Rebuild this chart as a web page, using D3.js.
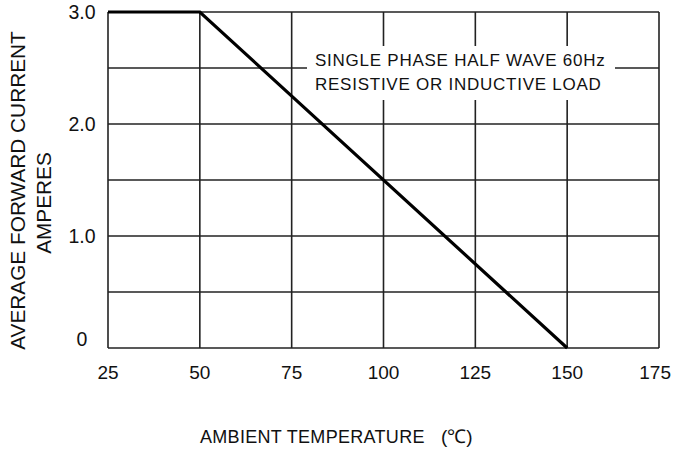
<!DOCTYPE html>
<html><head><meta charset="utf-8">
<script src="https://cdn.jsdelivr.net/npm/d3@7"></script>
<style>body{margin:0;background:#fff}svg{display:block}text{font-family:"Liberation Sans",Arial,sans-serif;fill:#111}</style>
</head><body><svg id="c" width="673" height="454"></svg>
<script>
const xTicks = [25, 50, 75, 100, 125, 150, 175];
const yGrid = [0, 0.5, 1.0, 1.5, 2.0, 2.5, 3.0];
const yLabels = [0, 1.0, 2.0, 3.0];
const curveTemp = [25, 50, 150];
const curveAmps = [3.0, 3.0, 0];
const note = ["SINGLE PHASE HALF WAVE 60Hz", "RESISTIVE OR INDUCTIVE LOAD"];

const W = 673;
const svg = d3.select("#c");
const x = d3.scaleLinear().domain([25, 175]).range([108, 659]);
const y = d3.scaleLinear().domain([0, 3]).range([348, 12]);
const grid = svg.append("g").attr("stroke", "#222").attr("stroke-width", 1.6);
grid.selectAll("line.v").data(xTicks).join("line").attr("class","v")
  .attr("x1", d => x(d)).attr("x2", d => x(d)).attr("y1", y(0)).attr("y2", y(3));
grid.selectAll("line.h").data(yGrid).join("line").attr("class","h")
  .attr("y1", d => y(d)).attr("y2", d => y(d)).attr("x1", x(25)).attr("x2", x(175));

// note box
svg.append("rect").attr("x", 307).attr("y", 46).attr("width", 308).attr("height", 54).attr("fill", "#fff");
svg.selectAll("text.note").data(note).join("text").attr("class","note")
  .attr("x", 315).attr("y", (d,i) => 66 + i*24)
  .attr("font-size", 17).attr("letter-spacing", 0.75).text(d => d);

// curve
const line = d3.line().x(d => x(d[0])).y(d => y(d[1]));
svg.append("path").datum(curveTemp.map((t,i) => [t, curveAmps[i]]))
  .attr("d", line).attr("fill", "none").attr("stroke", "#000").attr("stroke-width", 3.2)
  .attr("stroke-linejoin", "miter");

// x labels
svg.selectAll("text.xl").data(xTicks).join("text").attr("class","xl")
  .attr("y", 379).attr("text-anchor", "middle")
  .attr("font-size", 19).text(d => d)
  .attr("x", function(d){ const w = this.getComputedTextLength(); return Math.min(x(d), W - w/2 - 2); });
// y labels
svg.selectAll("text.yl").data(yLabels).join("text").attr("class","yl")
  .attr("x", 82).attr("y", d => d === 0 ? 346 : y(d) + 7).attr("text-anchor", "middle")
  .attr("font-size", 19.5).text(d => d === 0 ? "0" : d.toFixed(1));

// axis titles
svg.append("text").attr("x", 200).attr("y", 443).attr("font-size", 18).attr("letter-spacing", 0.3)
  .text("AMBIENT TEMPERATURE");
svg.append("text").attr("x", 441).attr("y", 443).attr("font-size", 19)
  .text("(℃)");
svg.append("text").attr("transform", "translate(25,190.5) rotate(-90)").attr("text-anchor", "middle")
  .attr("font-size", 20.8).text("AVERAGE FORWARD CURRENT");
svg.append("text").attr("transform", "translate(51,203) rotate(-90)").attr("text-anchor", "middle")
  .attr("font-size", 20.8).text("AMPERES");
</script></body></html>
